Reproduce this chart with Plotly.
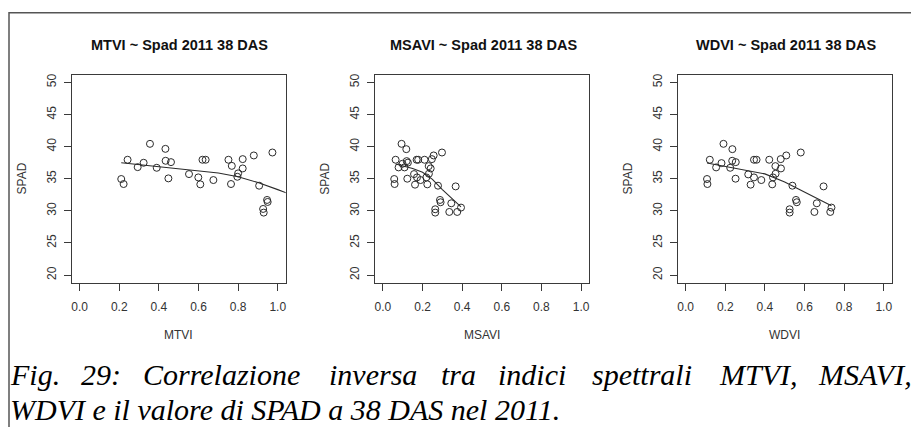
import plotly.graph_objects as go

# ---- data -------------------------------------------------------------
spad_mtvi = [34.95, 34.17, 37.95, 36.8, 37.48, 40.43, 36.7, 39.65, 37.79, 35.05, 37.58,
             35.72, 35.2, 34.12, 37.95, 37.95, 34.79, 37.95, 34.17, 37.0, 35.3, 35.83,
             36.6, 38.05, 38.62, 33.91, 30.29, 29.72, 31.69, 31.38, 39.08]
mtvi = [0.21, 0.222, 0.242, 0.293, 0.323, 0.355, 0.389, 0.433, 0.434, 0.448, 0.461,
        0.552, 0.599, 0.609, 0.620, 0.636, 0.675, 0.751, 0.764, 0.768, 0.796, 0.80,
        0.823, 0.823, 0.879, 0.906, 0.926, 0.929, 0.946, 0.949, 0.973]

spad_msavi = [34.95, 34.17, 37.95, 36.76, 40.43, 37.33, 36.76, 39.6, 37.74, 37.5, 35.0,
              35.72, 34.07, 37.95, 37.95, 35.2, 34.79, 37.95, 35.2, 34.12, 36.96, 35.77,
              36.6, 38.05, 38.62, 30.24, 29.72, 33.91, 31.69, 31.33, 39.08, 29.82, 31.17,
              33.8, 29.82, 30.5]
msavi = [0.057, 0.059, 0.064, 0.079, 0.094, 0.099, 0.109, 0.118, 0.120, 0.126, 0.123,
         0.157, 0.162, 0.170, 0.178, 0.172, 0.190, 0.210, 0.219, 0.224, 0.231, 0.232,
         0.241, 0.247, 0.256, 0.264, 0.264, 0.278, 0.288, 0.291, 0.298, 0.335, 0.345,
         0.367, 0.375, 0.394]

spad_wdvi = [34.95, 34.17, 37.95, 36.76, 37.43, 40.43, 36.7, 39.6, 37.79, 37.58, 35.0,
             35.67, 34.07, 37.95, 37.95, 35.2, 34.79, 37.95, 34.12, 35.2, 35.77, 36.96,
             36.6, 38.05, 38.62, 30.24, 29.72, 33.91, 31.69, 31.33, 39.08, 29.82, 31.17,
             33.8, 29.82, 30.5]
wdvi = [0.108, 0.110, 0.122, 0.154, 0.181, 0.191, 0.225, 0.236, 0.235, 0.253, 0.252,
        0.316, 0.328, 0.345, 0.358, 0.345, 0.382, 0.422, 0.437, 0.441, 0.454, 0.453,
        0.481, 0.480, 0.508, 0.525, 0.525, 0.539, 0.557, 0.561, 0.581, 0.650, 0.662,
        0.696, 0.730, 0.736]

# smoothed trend curves
trend_mtvi_x = [0.21, 0.3, 0.4, 0.5, 0.6, 0.7, 0.8, 0.9, 1.0, 1.06]
trend_mtvi_y = [37.48, 37.2, 36.9, 36.6, 36.3, 35.9, 35.3, 34.4, 33.3, 32.6]
trend_msavi_x = [0.064, 0.1, 0.15, 0.2, 0.25, 0.3, 0.35, 0.394]
trend_msavi_y = [37.3, 37.0, 36.6, 36.0, 34.9, 33.3, 31.9, 30.6]
trend_wdvi_x = [0.108, 0.2, 0.3, 0.4, 0.5, 0.6, 0.7, 0.736]
trend_wdvi_y = [37.45, 36.9, 36.4, 35.75, 34.5, 32.9, 31.4, 30.8]

panel_titles = ["MTVI ~ Spad 2011 38 DAS", "MSAVI ~ Spad 2011 38 DAS", "WDVI ~ Spad 2011 38 DAS"]
x_titles = ["MTVI", "MSAVI", "WDVI"]
y_title = "SPAD"
x_ticks = [0.0, 0.2, 0.4, 0.6, 0.8, 1.0]
y_ticks = [20, 25, 30, 35, 40, 45, 50]

caption_line1 = ["Fig.", "29:", "Correlazione", "inversa", "tra", "indici", "spettrali", "MTVI,", "MSAVI,"]
caption_line2 = "WDVI e il valore di SPAD a 38 DAS nel 2011."

# ---- layout geometry (pixels) ----------------------------------------
W, H = 911, 427
box_left = [71.7, 375.0, 677.7]
box_w = 214.0
box_top, box_bot = 74.7, 282.7
def px(x): return x / W
def py(y): return 1 - y / H

INK = "#2b2b2b"
FONT = "Liberation Sans, Arial, sans-serif"

fig = go.Figure()
series = [(mtvi, spad_mtvi, trend_mtvi_x, trend_mtvi_y),
          (msavi, spad_msavi, trend_msavi_x, trend_msavi_y),
          (wdvi, spad_wdvi, trend_wdvi_x, trend_wdvi_y)]

annotations = []
for i, (xs, ys, tx, ty) in enumerate(series):
    sfx = "" if i == 0 else str(i + 1)
    fig.add_trace(go.Scatter(x=xs, y=ys, mode="markers", xaxis="x" + sfx, yaxis="y" + sfx,
                             marker=dict(symbol="circle-open", size=7, color=INK,
                                         line=dict(width=1, color=INK)),
                             showlegend=False, hoverinfo="x+y"))
    fig.add_trace(go.Scatter(x=tx, y=ty, mode="lines", xaxis="x" + sfx, yaxis="y" + sfx,
                             line=dict(color=INK, width=1.1), showlegend=False,
                             hoverinfo="skip"))
    axis_common = dict(showline=True, linecolor="#3a3a3a", linewidth=1.2, mirror=True,
                       ticks="outside", ticklen=7, tickwidth=1, tickcolor="#3a3a3a",
                       showgrid=False, zeroline=False,
                       tickfont=dict(family=FONT, size=12, color="#333333"))
    x0, x1 = px(box_left[i]), px(box_left[i] + box_w)
    fig.layout["xaxis" + sfx] = go.layout.XAxis(
        domain=[x0, x1], range=[-0.04, 1.04], tickvals=x_ticks,
        ticktext=[f"{v:.1f}" for v in x_ticks], anchor="y" + sfx,
        ticklabelstandoff=6, **axis_common)
    fig.layout["yaxis" + sfx] = go.layout.YAxis(
        domain=[py(box_bot), py(box_top)], range=[18.8, 51.2], tickvals=y_ticks,
        tickangle=-90, anchor="x" + sfx, ticklabelstandoff=3, **axis_common)

    cx = box_left[i] + box_w / 2
    annotations.append(dict(text="<b>" + panel_titles[i] + "</b>", x=px(cx + 1), y=py(45),
                            xref="paper", yref="paper", showarrow=False,
                            xanchor="center", yanchor="middle",
                            font=dict(family=FONT, size=14.5, color="#111111")))
    annotations.append(dict(text=x_titles[i], x=px(cx), y=py(335), xref="paper", yref="paper",
                            showarrow=False, xanchor="center", yanchor="middle",
                            font=dict(family=FONT, size=12, color="#333333")))
    annotations.append(dict(text=y_title, x=px(box_left[i] - 50), y=py((box_top + box_bot) / 2),
                            xref="paper", yref="paper", showarrow=False, textangle=-90,
                            xanchor="center", yanchor="middle",
                            font=dict(family=FONT, size=12, color="#333333")))

# justified first caption line, set word by word; second line flush left
CAP_FONT = dict(family="Liberation Serif, Times New Roman, serif", size=30, color="#000000")
cap_x = [9, 80, 142, 328, 440, 497, 591, 718, 913]
cap_split = 392
for j, word in enumerate(caption_line1):
    last = j == len(caption_line1) - 1
    annotations.append(dict(text="<i>" + word + "</i>", x=px(cap_x[j]), y=py(cap_split),
                            xref="paper", yref="paper", showarrow=False,
                            xanchor="right" if last else "left", yanchor="bottom",
                            borderpad=0, font=CAP_FONT))
annotations.append(dict(text="<i>" + caption_line2 + "</i>", x=px(9), y=py(cap_split),
                        xref="paper", yref="paper", showarrow=False,
                        xanchor="left", yanchor="top", borderpad=0, font=CAP_FONT))

# figure frame (left and top edges visible)
shapes = [dict(type="rect", xref="paper", yref="paper", x0=px(9), x1=px(912), y0=py(440), y1=py(12.7),
               line=dict(color="#555555", width=1.5))]

fig.update_layout(width=W, height=H, margin=dict(l=0, r=0, t=0, b=0),
                  paper_bgcolor="white", plot_bgcolor="white",
                  annotations=annotations, shapes=shapes)

fig.write_html("out.html", config={"displayModeBar": False})
